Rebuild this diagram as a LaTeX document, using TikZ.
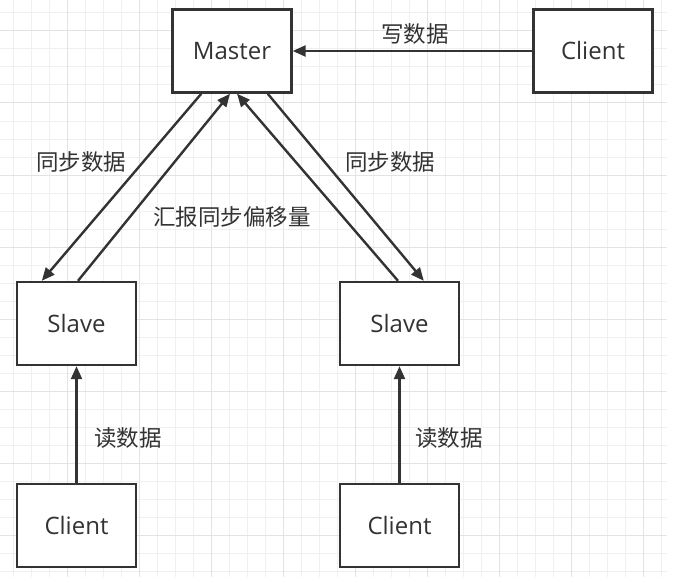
\documentclass[tikz,border=0pt]{standalone}
\usepackage{fontspec}
\setmainfont{Open Sans}
\newfontfamily\cjk{Noto Sans CJK SC}
\usetikzlibrary{arrows.meta,calc}
\definecolor{ink}{HTML}{333333}
\definecolor{gridminor}{HTML}{F0F0F0}
\definecolor{gridmajor}{HTML}{E3E3E3}
\tikzset{
  box/.style={draw=ink, line width=2.4pt, fill=white, minimum width=119pt, minimum height=83pt, inner sep=0pt, font=\fontsize{24}{26}\selectfont, text=ink},
  conn/.style={draw=ink, line width=2.4pt, -{Triangle[length=13pt,width=11pt]}},
  lbl/.style={font=\cjk\fontsize{22.5}{24}\selectfont, text=ink, inner sep=0pt}
}
\begin{document}
\begin{tikzpicture}[x=1pt,y=-1pt]
\useasboundingbox (0,0) rectangle (694,586);
\fill[white] (0,0) rectangle (694,586);
\begin{scope}
\clip (0,0) rectangle (667,577);
\foreach \i in {0,...,36} {
  \draw[gridminor, line width=1pt] ({13+18*\i},0) -- ({13+18*\i},577);
  \draw[gridminor, line width=1pt] (0,{13+18*\i}) -- (667,{13+18*\i});
}
\foreach \i in {-1,...,9} {
  \draw[gridmajor, line width=1pt] ({67+72*\i},0) -- ({67+72*\i},577);
  \draw[gridmajor, line width=1pt] (0,{31+72*\i}) -- (667,{31+72*\i});
}
\end{scope}

\node[box] (m) at (232,51) {Master};
\node[box] (c0) at (593,51) {Client};
\node[box] (s1) at (76.5,323.5) {Slave};
\node[box] (s2) at (399.5,323.5) {Slave};
\node[box] (c1) at (76.5,525.5) {Client};
\node[box] (c2) at (399.5,525.5) {Client};

\draw[conn] (c0.west) -- (m.east);
\draw[conn] ($(m.south west)+(30,0)$) -- ($(s1.north west)+(26,0)$);
\draw[conn] ($(s1.north)+(1.5,0)$) -- ($(m.south)+(-2,0)$);
\draw[conn] ($(s2.north)+(-1.5,0)$) -- ($(m.south)+(5,0)$);
\draw[conn] ($(m.south east)+(-25,0)$) -- ($(s2.north west)+(85,0)$);
\draw[conn] (c1.north) -- (s1.south);
\draw[conn] (c2.north) -- (s2.south);

\node[lbl] (l1) at (415,34) {写数据};
\node[lbl] (l2) at (81,162) {同步数据};
\node[lbl] (l3) at (232,217) {汇报同步偏移量};
\node[lbl] (l4) at (390,162) {同步数据};
\node[lbl] (l5) at (128,438) {读数据};
\node[lbl] (l6) at (449,438) {读数据};
\end{tikzpicture}
\end{document}
